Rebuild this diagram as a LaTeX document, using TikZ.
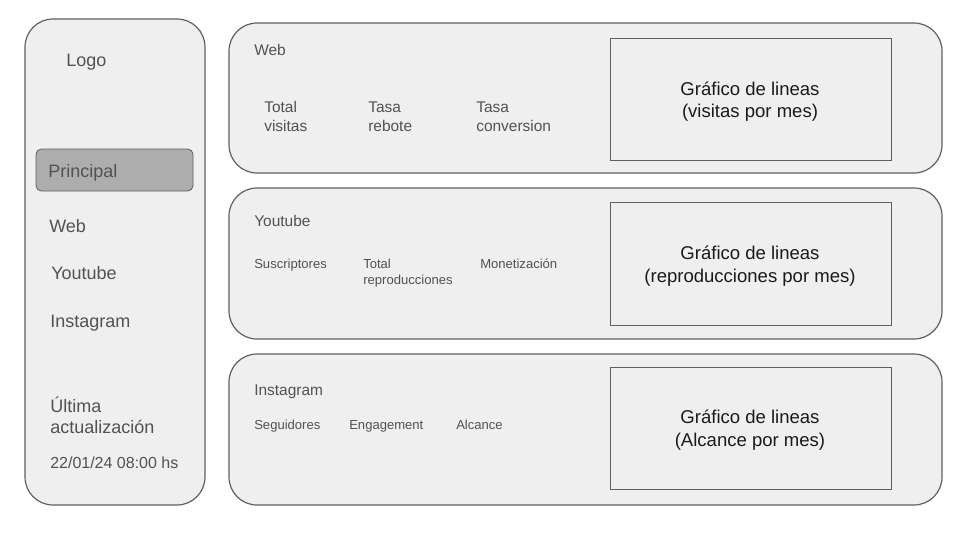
\documentclass[tikz,border=0pt]{standalone}
\usepackage{fontspec}
\setmainfont{Liberation Sans}
\usetikzlibrary{positioning}
\definecolor{boxfill}{HTML}{EFEFEF}
\definecolor{boxline}{HTML}{5F5F5F}
\definecolor{selfill}{HTML}{ADADAD}
\definecolor{txtgray}{HTML}{525252}
\definecolor{charttxt}{HTML}{1A1A1A}
\tikzset{
  panel/.style={draw=boxline, fill=boxfill, line width=0.9pt, rounded corners=21pt},
  chartbox/.style={draw=boxline, fill=boxfill, line width=0.6pt},
  selbox/.style={draw=boxline, fill=selfill, line width=0.6pt, rounded corners=4pt},
  oneline/.style={text height=0.72em, text depth=0.2em},
  menuitem/.style={anchor=west, inner sep=0pt, text=txtgray, align=left, font=\fontsize{13.5}{15.8}\selectfont},
  paneltitle/.style={anchor=west, inner sep=0pt, text=txtgray, oneline, font=\fontsize{11.6}{15}\selectfont},
  metric/.style={anchor=west, inner sep=0pt, text=txtgray, align=left, font=\fontsize{11.6}{14.4}\selectfont},
  smalltext/.style={anchor=west, inner sep=0pt, text=txtgray, align=left, font=\fontsize{9.8}{12}\selectfont},
  charttext/.style={inner sep=0pt, text=charttxt, align=center, font=\fontsize{13.9}{17}\selectfont}
}

\begin{document}
\begin{tikzpicture}[x=0.75pt,y=-0.75pt]
        \useasboundingbox (0,0) rectangle (960,540);
        % sidebar
        \draw[panel] (25,19) rectangle (205,505);
        \draw[selbox] (36,149) rectangle (193,191);
        \node[menuitem, oneline] (logo) at (66,63) {Logo};
        \node[menuitem, oneline] (principal) at (48,174) {Principal};
        \node[menuitem, oneline] (web) at (49,229.5) {Web};
        \node[menuitem, oneline] (youtube) at (51,276) {Youtube};
        \node[menuitem, oneline] (instagram) at (50,324.5) {Instagram};
        \node[menuitem] (ultima) at (50,415) {Última\\actualización};
        \node[menuitem, oneline, font=\fontsize{12}{14}\selectfont] (fecha) at (50,465) {22/01/24 08:00 hs};
        % panel web
        \draw[panel] (229,23) rectangle (942,173);
        \draw[chartbox] (610,38) rectangle (891,160);
        \node[paneltitle] (webtit) at (254,52) {Web};
        \node[metric] (visitas) at (264,116.5) {Total\\visitas};
        \node[metric] (rebote) at (368,117) {Tasa\\rebote};
        \node[metric] (conversion) at (476,117) {Tasa\\conversion};
        \node[charttext] (webgraf) at (750,101.5) {Gráfico de lineas\\(visitas por mes)};
        % panel youtube
        \draw[panel] (229,188) rectangle (942,339);
        \draw[chartbox] (610,202) rectangle (891,325);
        \node[paneltitle] (yttit) at (254,223) {Youtube};
        \node[smalltext, oneline] (suscriptores) at (254,265) {Suscriptores};
        \node[smalltext] (reproducciones) at (363,273.5) {Total\\reproducciones};
        \node[smalltext, oneline] (monetizacion) at (480,265) {Monetización};
        \node[charttext] (ytgraf) at (750,266) {Gráfico de lineas\\(reproducciones por mes)};
        % panel instagram
        \draw[panel] (229,354) rectangle (942,505);
        \draw[chartbox] (610,367) rectangle (891,489);
        \node[paneltitle] (igtit) at (254,392) {Instagram};
        \node[smalltext, oneline] (seguidores) at (254,426) {Seguidores};
        \node[smalltext, oneline] (engagement) at (349,426) {Engagement};
        \node[smalltext, oneline] (alcance) at (456,426) {Alcance};
        \node[charttext] (iggraf) at (750,430) {Gráfico de lineas\\(Alcance por mes)};
\end{tikzpicture}
\end{document}
